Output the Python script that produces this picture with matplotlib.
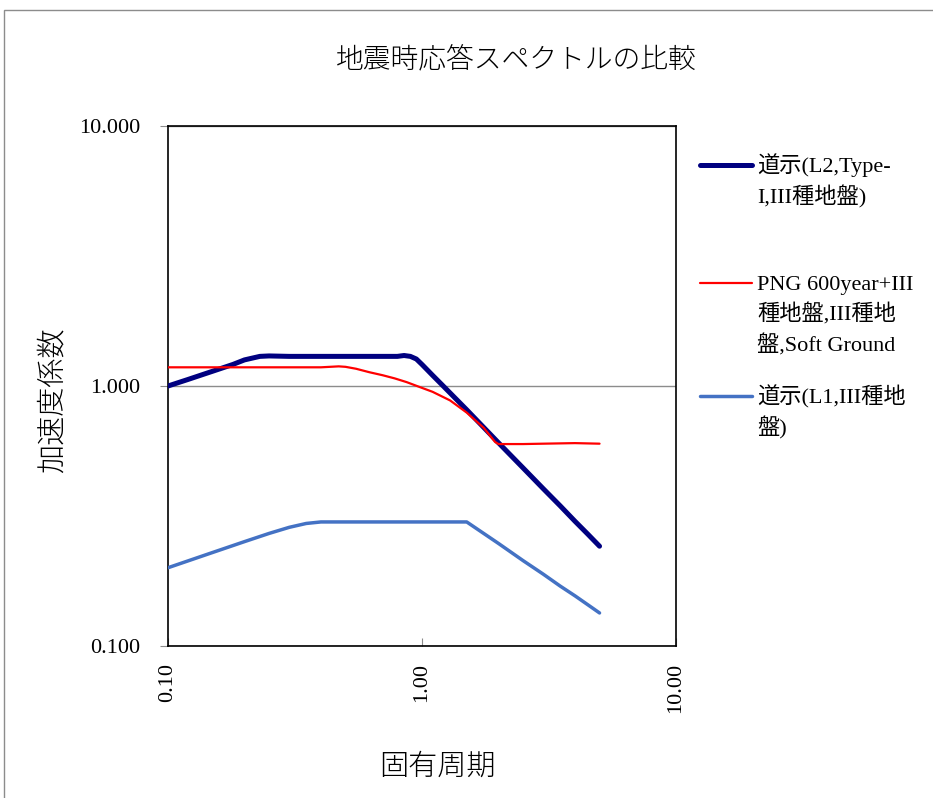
import matplotlib
matplotlib.use("Agg")
import matplotlib.pyplot as plt
from matplotlib.lines import Line2D
from matplotlib.patches import Rectangle
from matplotlib.ticker import FixedLocator, FuncFormatter, NullLocator

plt.rcParams['font.family'] = ['Liberation Serif', 'Noto Sans CJK JP']

# 道示 L2 (Type-I, III種地盤)
t_l2 = [0.10, 0.12, 0.15, 0.18, 0.20, 0.23, 0.25, 0.30, 0.40, 0.50, 0.60, 0.70,
        0.80, 0.85, 0.90, 0.95, 1.00, 1.10, 1.20, 1.50, 2.00, 2.50, 3.00, 3.50,
        4.00, 4.50, 5.00]
s_l2 = [1.00, 1.06, 1.14, 1.21, 1.26, 1.30, 1.305, 1.30, 1.30, 1.30, 1.30, 1.30,
        1.30, 1.31, 1.30, 1.27, 1.21, 1.10, 1.01, 0.81, 0.605, 0.484, 0.403, 0.346,
        0.302, 0.269, 0.242]

# PNG 600year + III種地盤
t_png = [0.10, 0.20, 0.30, 0.40, 0.47, 0.50, 0.55, 0.62, 0.70, 0.78, 0.87, 0.955,
         1.10, 1.29, 1.50, 1.75, 1.94, 2.00, 2.50, 3.00, 4.00, 5.00]
s_png = [1.18, 1.18, 1.18, 1.18, 1.19, 1.185, 1.165, 1.13, 1.10, 1.07, 1.035, 1.00,
         0.95, 0.88, 0.79, 0.69, 0.609, 0.598, 0.598, 0.60, 0.603, 0.60]

# 道示 L1 (III種地盤)
t_l1 = [0.10, 0.15, 0.20, 0.25, 0.30, 0.35, 0.40, 0.50, 0.70, 1.00, 1.20, 1.40,
        1.50, 2.00, 2.50, 3.00, 3.50, 4.00, 4.50, 5.00]
s_l1 = [0.200, 0.229, 0.252, 0.271, 0.286, 0.296, 0.300, 0.300, 0.300, 0.300, 0.300,
        0.300, 0.300, 0.248, 0.213, 0.189, 0.170, 0.156, 0.144, 0.134]

labels = ["道示(L2,Type-\nI,III種地盤)",
          "PNG 600year+III\n種地盤,III種地\n盤,Soft Ground",
          "道示(L1,III種地\n盤)"]
colors = ["#000080", "#FF0000", "#4472C4"]
widths = [3.6, 1.6, 2.5]

W, H = 933, 798
fig = plt.figure(figsize=(W / 100, H / 100), dpi=100)

# chart area border
fig.add_artist(Rectangle((4 / W, -0.05), 1.2, 1 - 10 / H + 0.05,
                         transform=fig.transFigure, fill=False,
                         edgecolor="#8c8c8c", linewidth=1.0))

ax = fig.add_axes([168 / W, 1 - 646 / H, (676 - 168) / W, (646 - 126) / H])
ax.set_xscale("log")
ax.set_yscale("log")
ax.set_xlim(0.1, 10)
ax.set_ylim(0.1, 10)

series = [(t_l2, s_l2), (t_png, s_png), (t_l1, s_l1)]
for (t, s), c, lw in zip(series, colors, widths):
    ax.plot(t, s, color=c, linewidth=lw, solid_capstyle="round",
            solid_joinstyle="round", zorder=3)

ax.xaxis.set_major_locator(FixedLocator([0.1, 1, 10]))
ax.yaxis.set_major_locator(FixedLocator([0.1, 1, 10]))
ax.xaxis.set_minor_locator(NullLocator())
ax.yaxis.set_minor_locator(NullLocator())
ax.xaxis.set_major_formatter(FuncFormatter(lambda v, p: f"{v:.2f}"))
ax.yaxis.set_major_formatter(FuncFormatter(lambda v, p: f"{v:.3f}"))
ax.tick_params(axis="x", direction="in", length=6, color="#8c8c8c",
               labelsize=16, pad=12, labelrotation=90)
ax.tick_params(axis="y", direction="out", length=6, color="#8c8c8c",
               labelsize=16, pad=14)
ax.yaxis.grid(True, color="#8c8c8c", linewidth=1.0)
ax.set_axisbelow(True)
for sp in ax.spines.values():
    sp.set_linewidth(1.2)
    sp.set_color("black")

cjk = ["Noto Sans CJK JP"]
fig.text(516 / W, 1 - 60 / H, "地震時応答スペクトルの比較", family=cjk,
         fontsize=20, fontweight="light", ha="center", va="center")
fig.text(52 / W, 1 - 400 / H, "加速度係数", family=cjk, fontsize=21,
         fontweight="light", rotation=90, ha="center", va="center")
fig.text(437 / W, 1 - 766 / H, "固有周期", family=cjk, fontsize=21,
         fontweight="light", ha="center", va="center")

# legend: key at first line, wrapped lines 31 px apart
leg_y = [165, 283, 396]
for lab, c, lw, y in zip(labels, colors, widths, leg_y):
    fig.add_artist(Line2D([700 / W, 752 / W], [1 - y / H, 1 - y / H],
                          transform=fig.transFigure, color=c, linewidth=lw,
                          solid_capstyle="round"))
    for i, line in enumerate(lab.split("\n")):
        fig.text(757 / W, 1 - (y + 7 + 31 * i) / H, line, fontsize=16,
                 ha="left", va="baseline")

fig.savefig("out.png", dpi=100)
